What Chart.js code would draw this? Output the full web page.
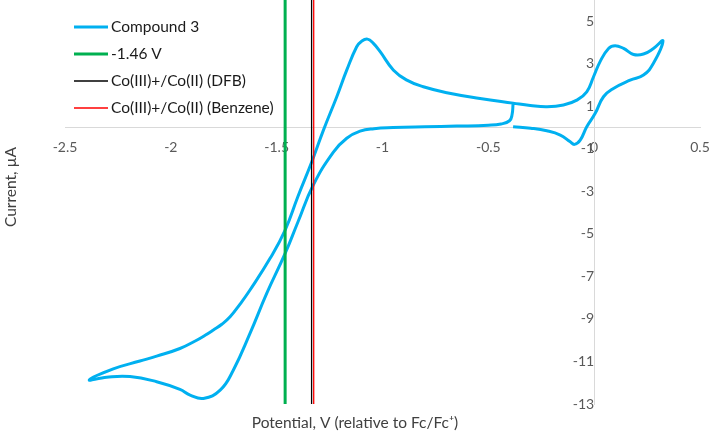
<!DOCTYPE html>
<html>
<head>
<meta charset="utf-8">
<script src="https://cdn.jsdelivr.net/npm/chart.js@4.4.1/dist/chart.umd.min.js"></script>
<style>
    html, body { margin: 0; padding: 0; background: #fff; }
</style>
</head>
<body>
<canvas id="chart" width="710" height="434"></canvas>
<script>
// CV trace of compound 3, in scan order (V vs Fc/Fc+, µA)
const potential = [
    // start, sweep to positive end
    -0.383, -0.30, -0.224, -0.16, -0.113, -0.093, -0.066, -0.035, 0.005, 0.044,
    0.091, 0.17, 0.233, 0.28, 0.325,
    // back over the top, down to the negative end
    0.28, 0.233, 0.186, 0.139, 0.099, 0.068, 0.028, -0.003, -0.035, -0.082,
    -0.145, -0.224, -0.302, -0.383, -0.539, -0.696, -0.807, -0.885, -0.948, -1.011,
    -1.043, -1.071, -1.10, -1.122, -1.169, -1.216, -1.279, -1.334, -1.40, -1.46,
    -1.531, -1.626, -1.673, -1.72, -1.759, -1.799, -1.838, -1.878, -1.957, -2.067,
    -2.146, -2.272, -2.385,
    // return along the bottom
    -2.303, -2.193, -2.067, -1.957, -1.909, -1.846, -1.767, -1.705, -1.626, -1.547,
    -1.46, -1.40, -1.327, -1.232, -1.169, -1.106, -1.04, -0.95, -0.8, -0.65,
    -0.5, -0.44, -0.40, -0.388, -0.383
]
const current = [
    0.04, -0.03, -0.15, -0.35, -0.67, -0.79, -0.59, 0.04, 0.67, 1.45,
    1.84, 2.23, 2.47, 3.02, 4.08,
    3.72, 3.46, 3.44, 3.72, 3.85, 3.72, 3.1, 2.39, 1.68, 1.29,
    1.06, 0.98, 1.04, 1.15, 1.37, 1.64, 1.92, 2.23, 2.70, 3.57,
    3.96, 4.16, 4.05, 3.8, 2.7, 1.45, -0.12, -1.61, -3.25, -4.82,
    -6.15, -7.64, -8.3, -8.9, -9.25, -9.52, -9.77, -10.0, -10.39, -10.75,
    -10.98, -11.35, -11.87,
    -11.74, -11.71, -11.95, -12.31, -12.58, -12.74, -12.35, -11.41, -9.68, -7.8,
    -5.92, -4.45, -2.7, -1.15, -0.5, -0.17, -0.05, 0.0, 0.04, 0.07,
    0.11, 0.17, 0.32, 0.6, 1.15
]

// vertical reference lines
const markerNames = ["-1.46 V", "Co(III)+/Co(II) (DFB)", "Co(III)+/Co(II) (Benzene)"]
const markerPotentials = [-1.46, -1.335, -1.325]
const markerColors = ["#00B050", "#000000", "#FF0000"]
const markerWidths = [3, 1.3, 1.3]

const xTicks = [-2.5, -2, -1.5, -1, -0.5, 0, 0.5]
const yTicks = [-13, -11, -9, -7, -5, -3, -1, 1, 3, 5]
const yMin = -13
const yMax = 6

Chart.defaults.font.family = "Lato"

const datasets = [{
    label: "Compound 3",
    data: potential.map((v, i) => ({ x: v, y: current[i] })),
    showLine: true,
    borderColor: "#00B0F0",
    borderWidth: 3,
    pointRadius: 0,
    tension: 0.45,
    order: 4
}]
markerNames.forEach((name, i) => {
    datasets.push({
        label: name,
        data: [{ x: markerPotentials[i], y: yMin }, { x: markerPotentials[i], y: yMax }],
        showLine: true,
        borderColor: markerColors[i],
        borderWidth: markerWidths[i],
        pointRadius: 0,
        order: 3 - i
    })
})

// legend drawn as short lines in the top-left corner, like Excel
const lineLegend = {
    id: "lineLegend",
    afterDraw(chart) {
        const ctx = chart.ctx
        ctx.save()
        ctx.font = "15.5px Lato"
        ctx.textBaseline = "middle"
        chart.data.datasets.forEach((ds, i) => {
            const y = 27 + i * 27
            ctx.strokeStyle = ds.borderColor
            ctx.lineWidth = ds.borderWidth
            ctx.beginPath()
            ctx.moveTo(74, y)
            ctx.lineTo(108, y)
            ctx.stroke()
            ctx.fillStyle = "#1a1a1a"
            ctx.fillText(ds.label, 111, y)
        })
        ctx.restore()
    }
}

const axisTitles = {
    id: "axisTitles",
    afterDraw(chart) {
        const ctx = chart.ctx
        ctx.save()
        ctx.fillStyle = "#404040"
        ctx.font = "15.5px Lato"
        ctx.textAlign = "center"
        ctx.textBaseline = "middle"
        ctx.fillText("Potential, V (relative to Fc/Fc\u207A)", 355, 423)
        ctx.translate(11, 187)
        ctx.rotate(-Math.PI / 2)
        ctx.fillText("Current, \u00B5A", 0, 0)
        ctx.restore()
    }
}

// axes sit inside the plot, so they should not push the plot area in
const noPadding = s => {
    s.paddingLeft = 0
    s.paddingRight = 0
    s.paddingTop = 0
    s.paddingBottom = 0
}

new Chart(document.getElementById("chart"), {
    type: "scatter",
    data: { datasets },
    plugins: [lineLegend, axisTitles],
    options: {
        responsive: false,
        animation: false,
        layout: { padding: { left: 65, right: 10, top: 0, bottom: 30 } },
        plugins: { legend: { display: false }, tooltip: { enabled: false } },
        scales: {
            x: {
                type: "linear",
                min: -2.5,
                max: 0.5,
                position: { y: 0 },
                afterBuildTicks: s => { s.ticks = xTicks.map(v => ({ value: v })) },
                afterFit: noPadding,
                grid: { display: false, drawTicks: false },
                border: { display: true, color: "#D9D9D9", width: 1 },
                ticks: { color: "#595959", font: { size: 14 }, padding: 12, maxRotation: 0, callback: v => String(v) }
            },
            y: {
                type: "linear",
                min: yMin,
                max: yMax,
                position: { x: 0 },
                afterBuildTicks: s => { s.ticks = yTicks.map(v => ({ value: v })) },
                afterFit: noPadding,
                grid: { display: false, drawTicks: false },
                border: { display: true, color: "#D9D9D9", width: 1 },
                ticks: { color: "#595959", font: { size: 14 }, padding: 14, callback: v => String(v) }
            }
        }
    }
})
</script>
</body>
</html>
